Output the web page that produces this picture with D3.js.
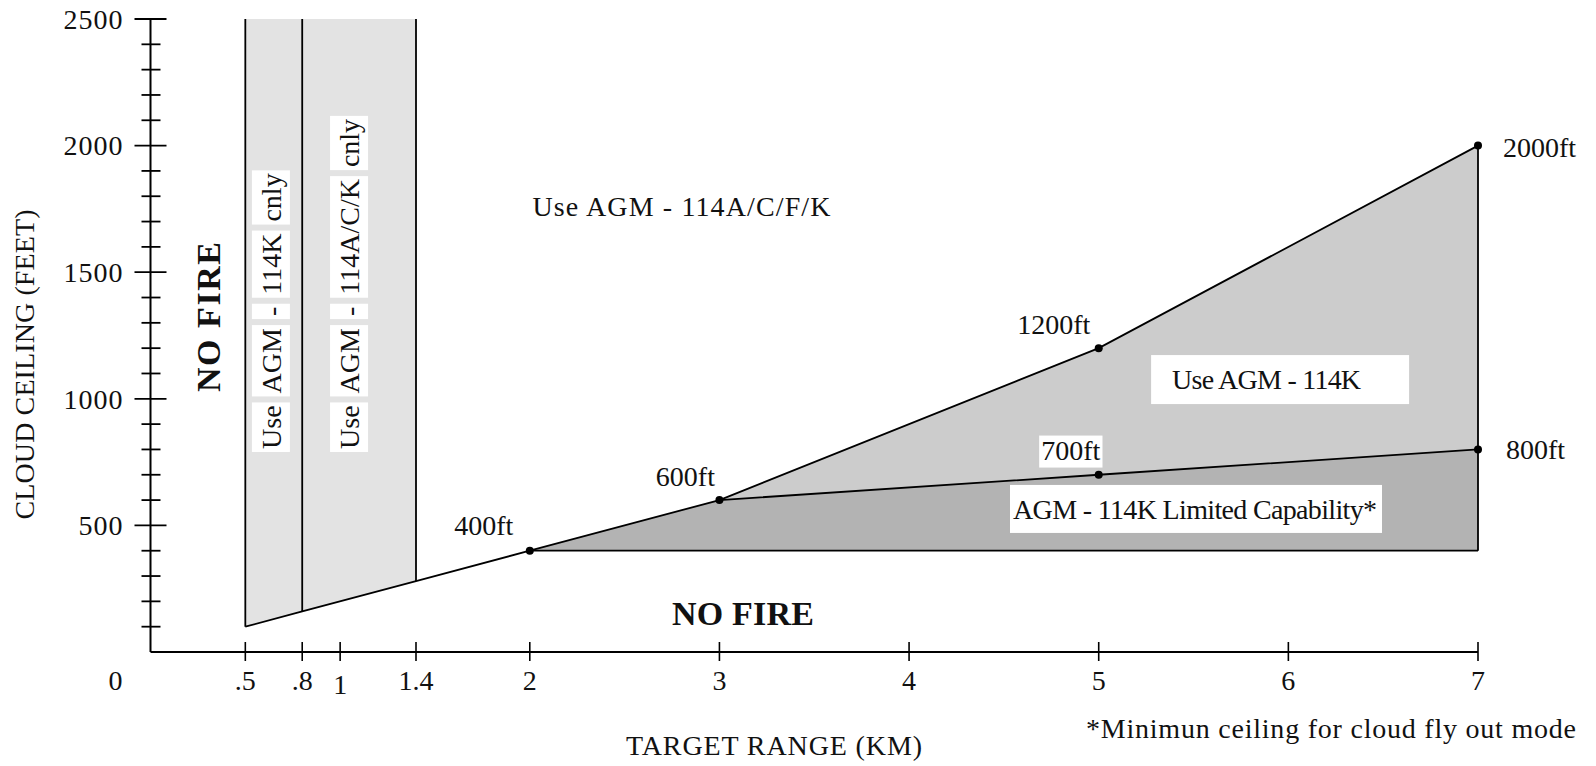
<!DOCTYPE html>
<html><head><meta charset="utf-8">
<script src="https://cdn.jsdelivr.net/npm/d3@7"></script>
<style>
body{margin:0;background:#fff}
svg{display:block}
text{font-family:"Liberation Serif","Times New Roman",serif;fill:#111}
</style>
</head><body>
<svg id="c" width="1596" height="766"></svg>
<script>
// ---------- data ----------
const xTickValues = [0.5, 0.8, 1, 1.4, 2, 3, 4, 5, 6, 7];
const xTickLabels = [".5", ".8", "1", "1.4", "2", "3", "4", "5", "6", "7"];
const yTickValues = [500, 1000, 1500, 2000, 2500];
const yTickLabels = ["500", "1000", "1500", "2000", "2500"];
const yMinorValues = [100,200,300,400,600,700,800,900,1100,1200,1300,1400,1600,1700,1800,1900,2100,2200,2300,2400];

const boundaryKm = [0.5, 0.8, 1.4, 2, 3, 5, 7];
const boundaryFt = [100, 160, 280, 400, 600, 1200, 2000];
const limitedKm = [2, 3, 5, 7];
const limitedFt = [400, 600, 700, 800];
const floorFt = 400;
const bandKm = [0.5, 0.8, 1.4];
const bandBottomFt = [100, 160, 280];
const bandTopFt = 2500;
const markerKm = [2, 3, 5, 5, 7, 7];
const markerFt = [400, 600, 1200, 700, 2000, 800];
const markerLabels = ["400ft", "600ft", "1200ft", "700ft", "2000ft", "800ft"];

// ---------- layout ----------
const W = 1596, H = 766;
const svg = d3.select("#c");
svg.append("rect").attr("width", W).attr("height", H).attr("fill", "#fff");
const x = d3.scaleLinear().domain([0, 7]).range([150.5, 1478]);
const y = d3.scaleLinear().domain([0, 2500]).range([652, 19]);
const FS = 28;

const pts = (ks, fs) => ks.map((k, i) => [k, fs[i]]);
const boundary = pts(boundaryKm, boundaryFt);
const limited = pts(limitedKm, limitedFt);

// regions
const mediumData = [3, 5, 7].map(k => ({k, top: boundaryFt[boundaryKm.indexOf(k)], bot: limitedFt[limitedKm.indexOf(k)]}));
svg.append("path")
  .attr("d", d3.area().x(d => x(d.k)).y0(d => y(d.bot)).y1(d => y(d.top))(mediumData))
  .attr("fill", "#cccccc");
svg.append("path")
  .attr("d", d3.area().x(d => x(d[0])).y0(y(floorFt)).y1(d => y(d[1]))(limited))
  .attr("fill", "#b3b3b3");
const bandData = pts(bandKm, bandBottomFt);
svg.append("path")
  .attr("d", d3.area().x(d => x(d[0])).y0(d => y(d[1])).y1(y(bandTopFt))(bandData))
  .attr("fill", "#e3e3e3");

// lines
const line = d3.line().x(d => x(d[0])).y(d => y(d[1]));
const stroke = {fill: "none", stroke: "#000", "stroke-width": 1.8};
function draw(p) { const e = svg.append("path").attr("d", line(p)); Object.entries(stroke).forEach(([a, v]) => e.attr(a, v)); return e; }
draw(boundary);
draw(limited.slice(1));
draw([[limitedKm[0], floorFt], [7, floorFt]]);
draw([[7, floorFt], [7, 2000]]);
bandData.forEach(d => draw([[d[0], d[1]], [d[0], bandTopFt]]));

// axes
svg.append("line").attr("x1", x(0)).attr("x2", x(0)).attr("y1", y(0)).attr("y2", y(2500)).attr("stroke", "#000").attr("stroke-width", 2);
svg.append("line").attr("x1", x(0)).attr("x2", x(7)).attr("y1", y(0)).attr("y2", y(0)).attr("stroke", "#000").attr("stroke-width", 2);
svg.selectAll(".ymaj").data(yTickValues).join("line")
  .attr("x1", x(0) - 16).attr("x2", x(0) + 16).attr("y1", d => y(d)).attr("y2", d => y(d))
  .attr("stroke", "#000").attr("stroke-width", 1.8);
svg.selectAll(".ymin").data(yMinorValues).join("line")
  .attr("x1", x(0) - 9).attr("x2", x(0) + 10).attr("y1", d => y(d)).attr("y2", d => y(d))
  .attr("stroke", "#000").attr("stroke-width", 1.8);
svg.selectAll(".xt").data(xTickValues).join("line")
  .attr("x1", d => x(d)).attr("x2", d => x(d)).attr("y1", y(0) - 10).attr("y2", y(0) + 9)
  .attr("stroke", "#000").attr("stroke-width", 1.6);

svg.selectAll(".ylab").data(yTickValues).join("text")
  .attr("x", x(0) - 27).attr("y", d => y(d)).attr("dy", "0.35em")
  .attr("text-anchor", "end").attr("font-size", FS).attr("letter-spacing", 1)
  .text((d, i) => yTickLabels[i]);
svg.selectAll(".xlab").data(xTickValues).join("text")
  .attr("x", d => x(d)).attr("y", y(0) + 28).attr("dy", (d, i) => xTickLabels[i] === "1" ? "0.5em" : "0.35em")
  .attr("text-anchor", "middle").attr("font-size", FS)
  .text((d, i) => xTickLabels[i]);
svg.append("text").attr("x", x(0) - 35).attr("y", y(0) + 28).attr("dy", "0.35em")
  .attr("text-anchor", "middle").attr("font-size", FS).text("0");

// axis titles
svg.append("text").attr("transform", `translate(24,${(y(0) + y(2500)) / 2 + 29}) rotate(-90)`)
  .attr("text-anchor", "middle").attr("dy", "0.35em").attr("font-size", FS)
  .attr("textLength", 310).attr("lengthAdjust", "spacing").text("CLOUD CEILING (FEET)");
svg.append("text").attr("x", 774).attr("y", 745).attr("dy", "0.35em")
  .attr("text-anchor", "middle").attr("font-size", FS)
  .attr("textLength", 296).attr("lengthAdjust", "spacing").text("TARGET RANGE (KM)");
svg.append("text").attr("x", 1086).attr("y", 728).attr("dy", "0.35em")
  .attr("font-size", FS).attr("textLength", 490).attr("lengthAdjust", "spacing")
  .text("*Minimun ceiling for cloud fly out mode");

// markers
svg.selectAll(".mk").data(markerKm).join("circle")
  .attr("cx", d => x(d)).attr("cy", (d, i) => y(markerFt[i])).attr("r", 4).attr("fill", "#000");

// marker labels
const labelOffsets = [[-46, -26, "middle"], [-34, -24, "middle"], [-45, -24, "middle"], [-28, -25, "middle"], [25, 2, "start"], [28, 0, "start"]];
markerKm.forEach((k, i) => {
  const [dx, dy, anchor] = labelOffsets[i];
  const t = svg.append("text").attr("x", x(k) + dx).attr("y", y(markerFt[i]) + dy).attr("dy", "0.35em")
    .attr("text-anchor", anchor).attr("font-size", FS).text(markerLabels[i]);
  if (markerLabels[i] === "700ft") {
    const b = t.node().getBBox();
    svg.insert("rect", () => t.node()).attr("x", b.x - 2).attr("y", b.y + 1).attr("width", b.width + 4).attr("height", b.height + 1).attr("fill", "#fff");
  }
});

// region labels
function boxedLabel(txt, k, ft, len, boxL, boxR, boxH) {
  const t = svg.append("text").attr("x", x(k)).attr("y", y(ft)).attr("dy", "0.35em")
    .attr("font-size", FS).attr("textLength", len).attr("lengthAdjust", "spacing").text(txt);
  svg.insert("rect", () => t.node()).attr("x", x(k) - boxL).attr("y", y(ft) - boxH / 2)
    .attr("width", len + boxL + boxR).attr("height", boxH).attr("fill", "#fff");
}
boxedLabel("Use AGM - 114K", 5.387, 1076, 189, 21, 48, 49);
boxedLabel("AGM - 114K Limited Capability*", 4.548, 565, 364, 3, 5, 48);

svg.append("text").attr("x", x(2.8)).attr("y", y(1760)).attr("dy", "0.35em")
  .attr("text-anchor", "middle").attr("font-size", FS)
  .attr("textLength", 298).attr("lengthAdjust", "spacing").text("Use AGM - 114A/C/F/K");

svg.append("text").attr("x", x(3.124)).attr("y", y(154)).attr("dy", "0.35em")
  .attr("text-anchor", "middle").attr("font-size", 34).attr("font-weight", "bold")
  .attr("textLength", 142).attr("lengthAdjust", "spacing").text("NO FIRE");
svg.append("text").attr("transform", `translate(${x(0.306)},${y(1323)}) rotate(-90)`)
  .attr("dy", "0.35em").attr("text-anchor", "middle").attr("font-size", 34).attr("font-weight", "bold")
  .attr("textLength", 150).attr("lengthAdjust", "spacing").text("NO FIRE");

// rotated band labels with per-word white boxes
const bandLabels = [
  {words: ["Use", "AGM", "-", "114K", "cnly"], k: 0.635},
  {words: ["Use", "AGM", "-", "114A/C/K", "cnly"], k: 1.047}
];
bandLabels.forEach(L => {
  const g = svg.append("g").attr("transform", `translate(${x(L.k)},${y(790)}) rotate(-90)`);
  let cur = 3;
  L.words.forEach(w => {
    const r = g.append("rect").attr("fill", "#fff");
    const t = g.append("text").attr("x", cur).attr("y", 0).attr("dy", "0.35em").attr("font-size", FS).text(w);
    const len = t.node().getComputedTextLength();
    r.attr("x", cur - 3).attr("y", -19).attr("width", len + 6).attr("height", 38);
    cur += len + 12;
  });
});
</script>
</body></html>
